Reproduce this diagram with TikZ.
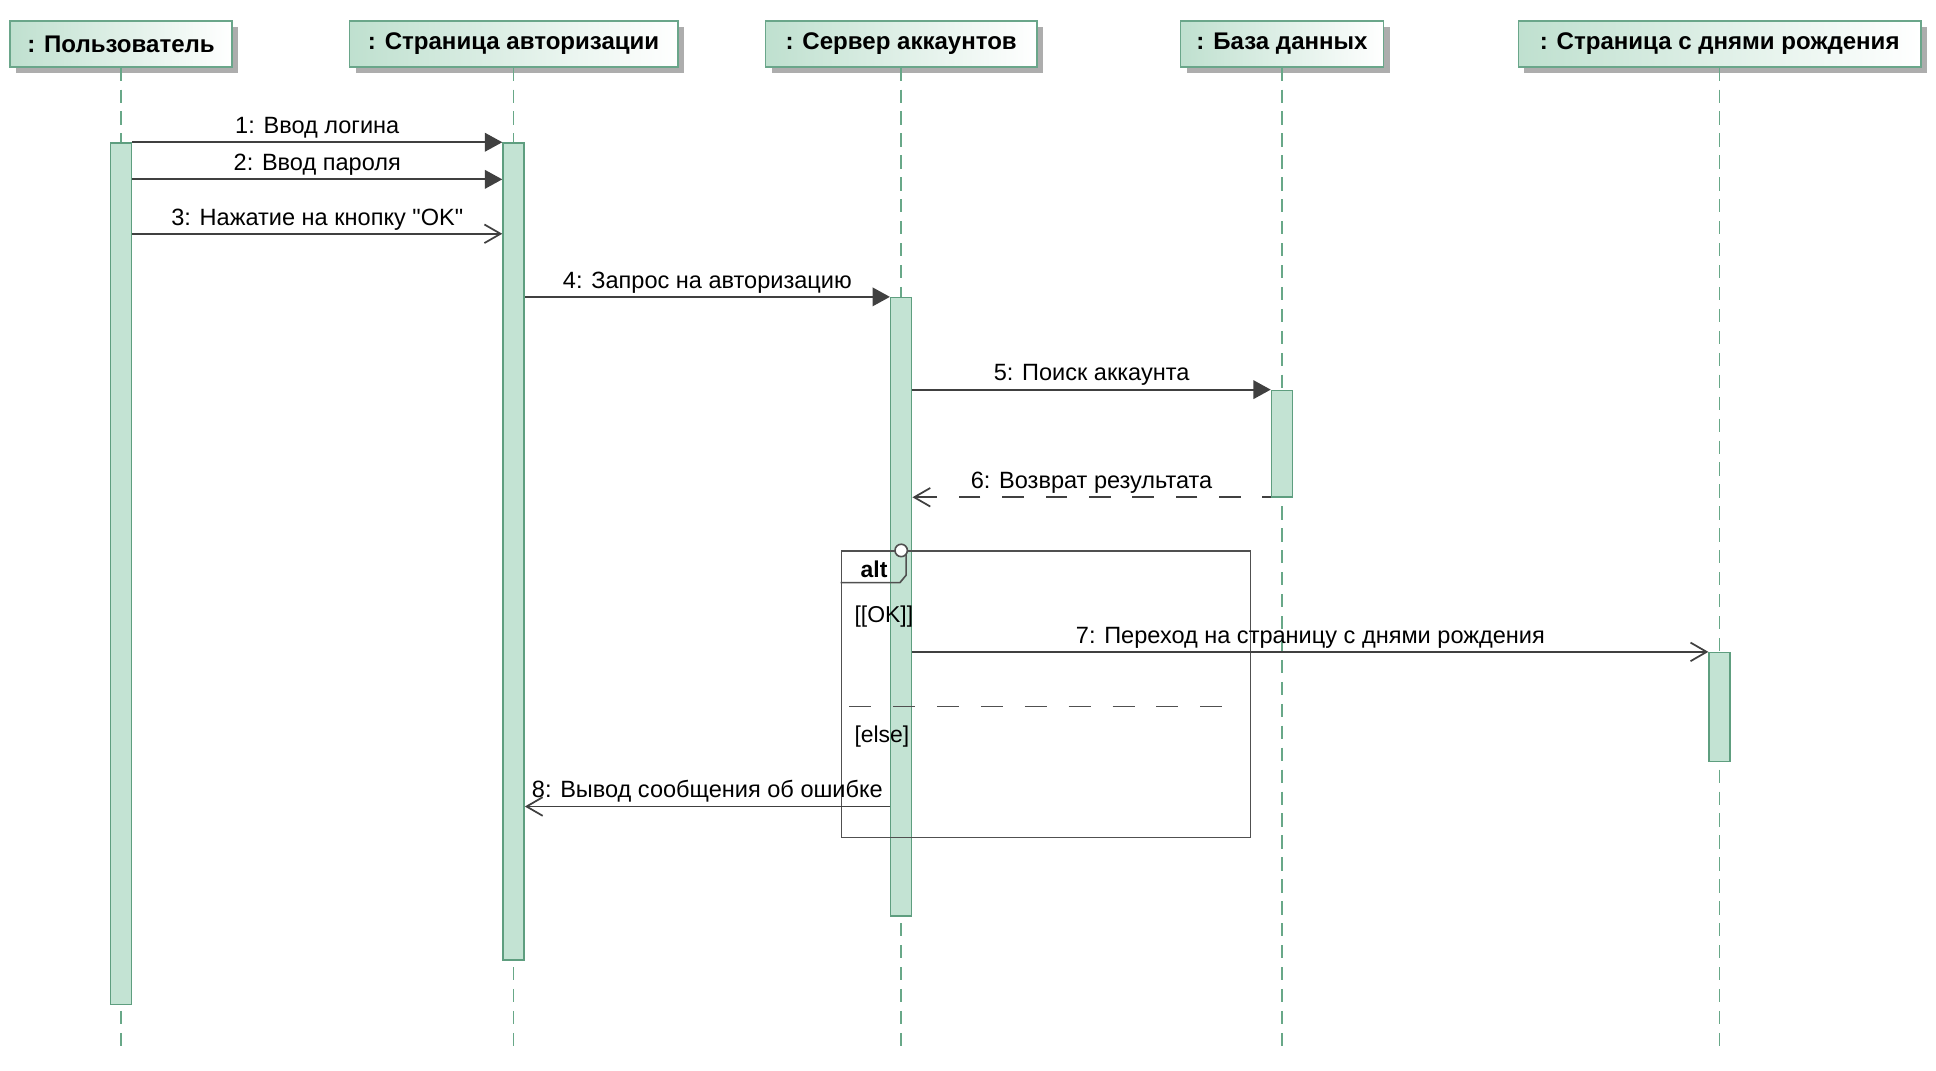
\documentclass[tikz,border=0pt]{standalone}
\usepackage{fontspec}
\setmainfont{Liberation Sans}[Ligatures=TeXOff]
\usetikzlibrary{arrows.meta,shadows,calc}
\definecolor{hdrgreen}{HTML}{BFE0CF}
\definecolor{hdrborder}{HTML}{6AA68A}
\definecolor{barfill}{HTML}{C3E3D3}
\definecolor{barborder}{HTML}{5E9E7F}
\definecolor{lifeln}{HTML}{68A888}
\definecolor{msgcol}{HTML}{404040}
\definecolor{framecol}{HTML}{505050}
\tikzset{
 hdr/.style={draw=hdrborder, line width=1.2pt, left color=hdrgreen, right color=white,
   minimum height=37pt, inner sep=0pt, font=\fontsize{19.4}{21}\selectfont\bfseries,
   drop shadow={shadow xshift=5pt,shadow yshift=-5pt,fill=black!32,opacity=1}},
 lifeline/.style={draw=lifeln, line width=1.2pt, dash pattern=on 10.7pt off 7pt},
 actbar/.style={draw=barborder, fill=barfill, line width=1.2pt, minimum width=17pt, inner sep=0pt, anchor=north},
 msg/.style={draw=msgcol, line width=1.4pt},
 sync/.style={msg, -{Triangle[length=14pt,width=15pt]}},
 async/.style={msg, -{Straight Barb[length=13pt,width=15pt,line width=1.4pt]}},
 reply/.style={async, dash pattern=on 17.5pt off 17.5pt, dash phase=10.8pt},
 mlabel/.style={midway, anchor=base, yshift=7pt, font=\fontsize{19}{21}\selectfont, inner sep=0pt, text=black},
 frame/.style={draw=framecol, line width=1.3pt},
 guard/.style={anchor=base west, font=\fontsize{18.5}{20}\selectfont, inner sep=0pt},
}
\begin{document}
\begin{tikzpicture}[x=0.996pt,y=-0.998pt]
\useasboundingbox (0pt,0pt) rectangle (1562pt,-863.3pt);
% headers
\node[hdr, minimum width=179pt] (h1) at (98,35.5) {: Пользователь};
\node[hdr, minimum width=265pt] (h2) at (416,35.5) {: Страница авторизации};
\node[hdr, minimum width=219pt] (h3) at (730,35.5) {: Сервер аккаунтов};
\node[hdr, minimum width=164pt] (h4) at (1038.5,35.5) {: База данных};
\node[hdr, minimum width=325pt] (h5) at (1393,35.5) {: Страница с днями рождения};
\coordinate (bottom) at (0,850);
% lifelines
\foreach \h in {h1,h2,h3,h4,h5}{
  \draw[lifeline] (\h.south) -- (\h.south |- bottom);
}
% activation bars
\node[actbar, minimum height=695pt] (b1) at (h1.south |- 0,115) {};
\node[actbar, minimum height=659pt] (b2) at (h2.south |- 0,115) {};
\node[actbar, minimum height=499pt] (b3) at (h3.south |- 0,240) {};
\node[actbar, minimum height=86pt] (b4) at (h4.south |- 0,315) {};
\node[actbar, minimum height=88pt] (b5) at (h5.south |- 0,527) {};
% alt frame
\node[frame, minimum width=330pt, minimum height=231pt, anchor=north west, inner sep=0pt] (alt) at (681,445) {};
\coordinate (tabbl) at ($(alt.north west)+(0,26)$);
\coordinate (tabr) at ($(alt.north west)+(53,0)$);
\draw[frame] (tabbl) -- ++(48,0) -- ++(5,-6) -- (tabr);
\node[font=\fontsize{18.5}{20}\selectfont\bfseries, anchor=base, inner sep=0pt] (altlbl) at (708,467) {alt};
\node[guard] (g1) at (692,503) {[[OK]]};
\node[guard] (g2) at (692,600) {[else]};
\coordinate (sepl) at (688,571);
\coordinate (sepr) at (990,571);
\draw[frame, dash pattern=on 17.7pt off 17.7pt] (sepl) -- (sepr);
\node[frame, fill=white, circle, minimum size=10pt, inner sep=0pt] (conn) at (h3.south |- alt.north) {};
% messages
\draw[sync] (b1.east |- 0,115) -- node[mlabel]{1: Ввод логина} (b2.west |- 0,115);
\draw[sync] (b1.east |- 0,145) -- node[mlabel]{2: Ввод пароля} (b2.west |- 0,145);
\draw[async] (b1.east |- 0,189) -- node[mlabel]{3: Нажатие на кнопку "OK"} (b2.west |- 0,189);
\draw[sync] (b2.east |- 0,240) -- node[mlabel]{4: Запрос на авторизацию} (b3.west |- 0,240);
\draw[sync] (b3.east |- 0,315) -- node[mlabel]{5: Поиск аккаунта} (b4.west |- 0,315);
\draw[reply] (b4.west |- 0,402) -- node[mlabel]{6: Возврат результата} (b3.east |- 0,402);
\draw[async] (b3.east |- 0,527) -- node[mlabel]{7: Переход на страницу с днями рождения} (b5.west |- 0,527);
\draw[async] (b3.west |- 0,652) -- node[mlabel]{8: Вывод сообщения об ошибке} (b2.east |- 0,652);
\end{tikzpicture}
\end{document}
